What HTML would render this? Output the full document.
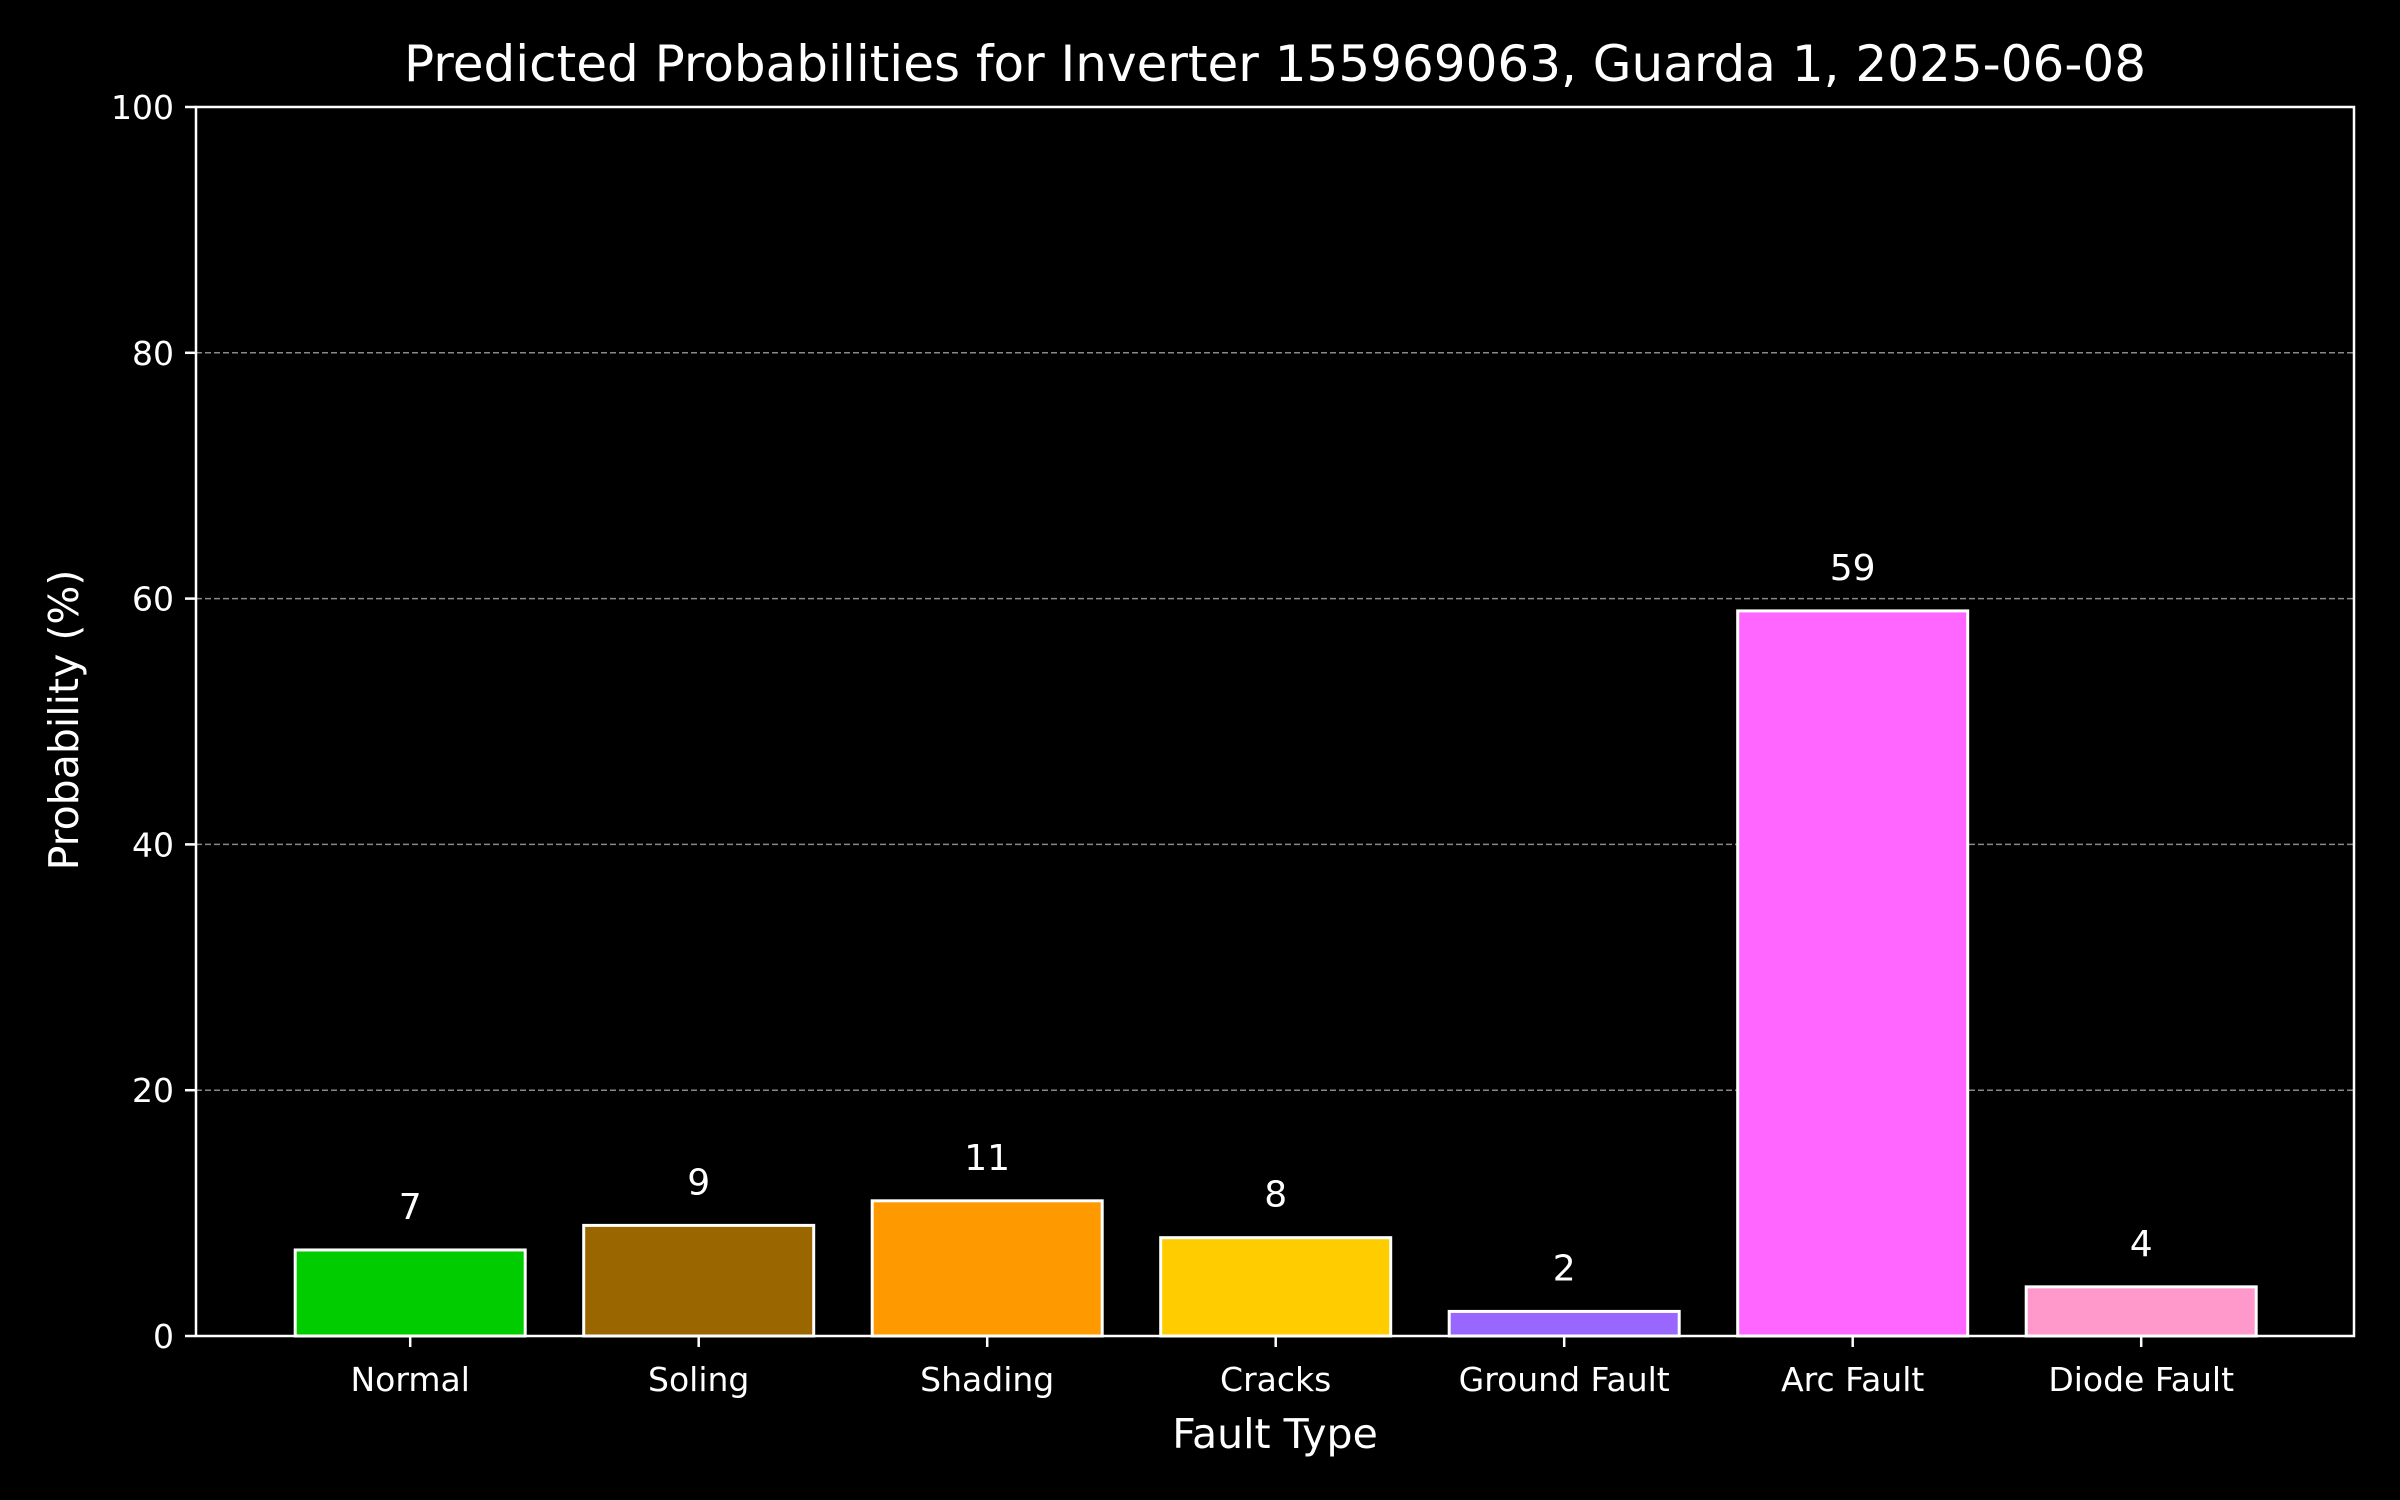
<!DOCTYPE html>
<html><head><meta charset="utf-8"><style>
html,body{margin:0;padding:0;background:#000;}
svg{display:block;font-family:"DejaVu Sans","Liberation Sans",sans-serif;}
</style></head><body>
<svg id="chart" width="2400" height="1500" viewBox="0 0 2400 1500" xmlns="http://www.w3.org/2000/svg">
<rect width="2400" height="1500" fill="#000"/>
<text x="1275" y="81" fill="#fff" font-size="50" text-anchor="middle">Predicted Probabilities for Inverter 155969063, Guarda 1, 2025-06-08</text>
<text x="1275" y="1448" fill="#fff" font-size="41" text-anchor="middle">Fault Type</text>
<text transform="translate(78,720) rotate(-90)" fill="#fff" font-size="41" text-anchor="middle">Probability (%)</text>
<g id="grid"></g>
<g id="bars"></g>
<g id="axes"></g>
</svg>
<script>
const categories = ["Normal","Soling","Shading","Cracks","Ground Fault","Arc Fault","Diode Fault"];
const values = [7,9,11,8,2,59,4];
const colors = ["#00cc00","#996600","#ff9900","#ffcc00","#9966ff","#ff66ff","#ff99cc"];
const yTicks = [0,20,40,60,80,100];

const NS="http://www.w3.org/2000/svg";
const L=196,R=2354,T=107,B=1336;
const yMin=0,yMax=100;
const step=288.5, x0=410.2, barW=230;
function y(v){return B-(v-yMin)/(yMax-yMin)*(B-T);}
function xc(i){return x0+i*step;}
function mk(tag,attrs,parent){const e=document.createElementNS(NS,tag);for(const k in attrs)e.setAttribute(k,attrs[k]);parent.appendChild(e);return e;}
const grid=document.getElementById('grid'),bars=document.getElementById('bars'),axes=document.getElementById('axes');

yTicks.forEach(t=>{
  if(t>yMin&&t<yMax){
    const g=mk('line',{x1:L,x2:R,y1:y(t),y2:y(t),stroke:'#888','stroke-width':1.5,'stroke-dasharray':'6,3'},grid);
    
    
  }
  const tk=mk('line',{x1:L-11,x2:L,y1:y(t),y2:y(t),stroke:'#fff','stroke-width':2.5},axes);
  
  
  const lb=mk('text',{x:L-22,y:y(t)+12,fill:'#fff','font-size':33,'text-anchor':'end'},axes);
  lb.textContent=t;
  
  
});

categories.forEach((c,i)=>{
  const r=mk('rect',{x:xc(i)-barW/2,y:y(values[i]),width:barW,height:y(0)-y(values[i]),fill:colors[i],stroke:'#fff','stroke-width':3},bars);
  
  
  const v=mk('text',{x:xc(i),y:y(values[i])-31,fill:'#fff','font-size':36,'text-anchor':'middle'},bars);
  v.textContent=values[i];
  
  
  const tk=mk('line',{x1:xc(i),x2:xc(i),y1:B,y2:B+11,stroke:'#fff','stroke-width':2.5},axes);
  
  
  const lb=mk('text',{x:xc(i),y:B+55,fill:'#fff','font-size':33,'text-anchor':'middle'},axes);
  lb.textContent=c;
  
  
});

const frame=mk('rect',{x:L,y:T,width:R-L,height:B-T,fill:'none',stroke:'#fff','stroke-width':2.5},axes);


</script>
</body></html>
